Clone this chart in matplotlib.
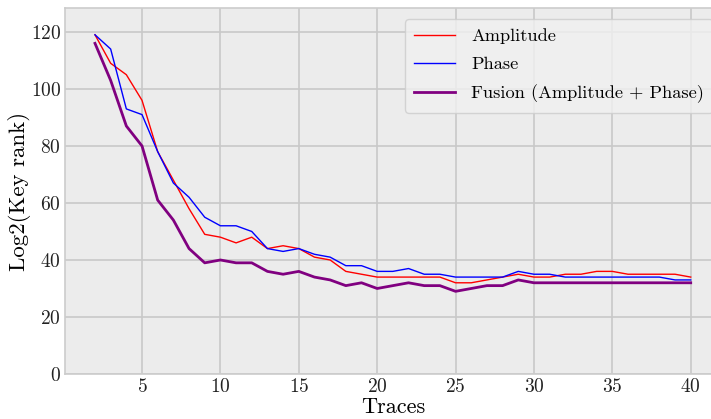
import matplotlib
matplotlib.use("Agg")
import matplotlib.pyplot as plt

plt.rcParams["font.family"] = ["cmr10", "DejaVu Serif"]
plt.rcParams["mathtext.fontset"] = "cm"
plt.rcParams["axes.formatter.use_mathtext"] = True

traces = list(range(2, 41))

amplitude = [119, 109, 105, 96, 78, 68, 58, 49, 48, 46,
             48, 44, 45, 44, 41, 40, 36, 35, 34, 34,
             34, 34, 34, 32, 32, 33, 34, 35, 34, 34,
             35, 35, 36, 36, 35, 35, 35, 35, 34]

phase = [119, 114, 93, 91, 78, 67, 62, 55, 52, 52,
         50, 44, 43, 44, 42, 41, 38, 38, 36, 36,
         37, 35, 35, 34, 34, 34, 34, 36, 35, 35,
         34, 34, 34, 34, 34, 34, 34, 33, 33]

fusion = [116, 103, 87, 80, 61, 54, 44, 39, 40, 39,
          39, 36, 35, 36, 34, 33, 31, 32, 30, 31,
          32, 31, 31, 29, 30, 31, 31, 33, 32, 32,
          32, 32, 32, 32, 32, 32, 32, 32, 32]

series_labels = ["Amplitude", "Phase", "Fusion (Amplitude + Phase)"]
x_ticks = [5, 10, 15, 20, 25, 30, 35, 40]
y_ticks = [0, 20, 40, 60, 80, 100, 120]

fig = plt.figure(figsize=(7.11, 4.19), dpi=100)
ax = fig.add_axes([65.2 / 711, 1 - 374 / 419, 655.3 / 711, 366 / 419])

ax.set_facecolor("#ececec")
for sp in ax.spines.values():
    sp.set_color("#cccccc")
    sp.set_linewidth(1.2)
ax.grid(True, color="#c8c8c8", linewidth=1.2)
ax.set_axisbelow(True)

ax.plot(traces, amplitude, color="red", linewidth=1.0, label=series_labels[0])
ax.plot(traces, phase, color="blue", linewidth=1.0, label=series_labels[1])
ax.plot(traces, fusion, color="purple", linewidth=2.0, label=series_labels[2])

ax.set_ylim(0, 128.4)
ax.set_xticks(x_ticks)
ax.set_yticks(y_ticks)
ax.tick_params(length=0, labelsize=14, pad=3, colors="#222222")
ax.set_xlabel("Traces", fontsize=16, labelpad=1)
ax.set_ylabel("Log2(Key rank)", fontsize=16.5, labelpad=0)

leg = ax.legend(loc="upper left", bbox_to_anchor=(405 / 711, 1 - 19 / 419),
                bbox_transform=fig.transFigure, borderaxespad=0, fontsize=13.2,
                handlelength=2.2, handletextpad=0.9, labelspacing=0.68,
                borderpad=0.5, fancybox=True, framealpha=0.8)
leg.get_frame().set_facecolor("#f0f0f0")
leg.get_frame().set_edgecolor("#cccccc")

fig.savefig("out.png", dpi=100)
